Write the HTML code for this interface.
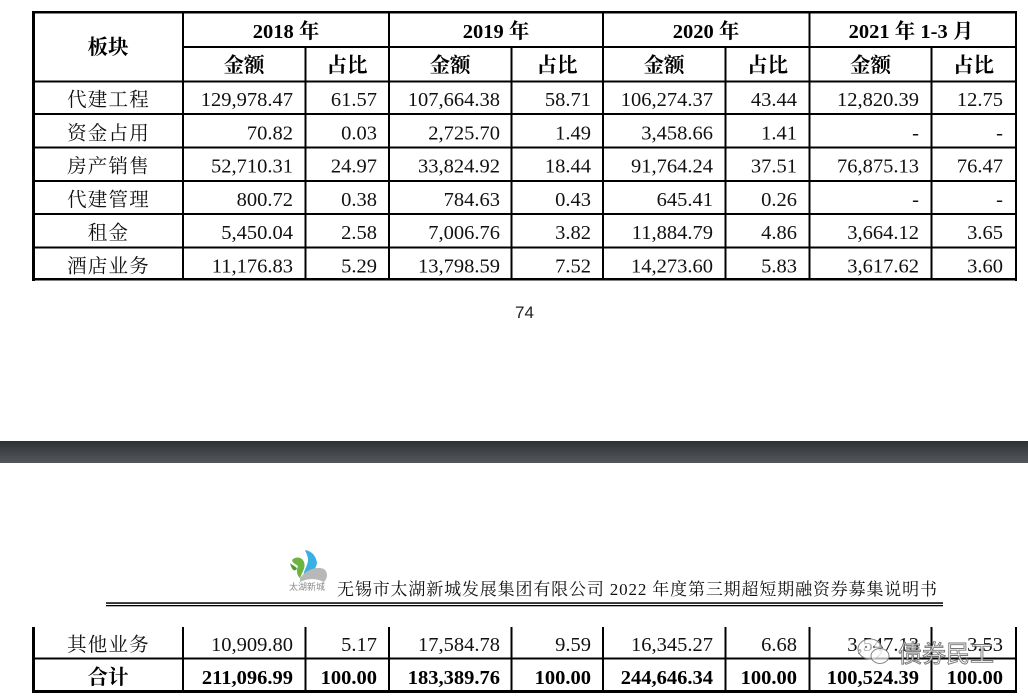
<!DOCTYPE html>
<html><head><meta charset="utf-8"><style>
html,body{margin:0;padding:0;background:#fff;}
body{width:1028px;height:698px;overflow:hidden;}
svg{display:block;}
.n{font-family:"Liberation Serif","Noto Serif CJK SC",serif;font-size:20.5px;fill:#111;}
.c{font-family:"Noto Serif CJK SC","Noto Serif CJK JP","Liberation Serif",serif;font-size:19.5px;letter-spacing:1.2px;fill:#111;}
.b{font-family:"Liberation Serif","Noto Serif CJK SC",serif;font-size:20.5px;font-weight:bold;fill:#000;}
</style></head><body>
<svg width="1028" height="698" viewBox="0 0 1028 698" xmlns="http://www.w3.org/2000/svg">
<defs>
<linearGradient id="band" x1="0" y1="0" x2="0" y2="1">
<stop offset="0" stop-color="#2e3134"/><stop offset="0.5" stop-color="#424548"/><stop offset="1" stop-color="#53575b"/>
</linearGradient>
</defs>
<rect width="1028" height="698" fill="#fff"/>

<!-- TOP TABLE LINES -->
<g fill="#000">
<rect x="32" y="11" width="985" height="2.5"/>
<rect x="32" y="11" width="3" height="270"/>
<rect x="1015" y="11" width="2" height="270"/>
<rect x="32" y="278" width="985" height="2.5"/>
<rect x="183" y="46" width="833" height="2"/>
<rect x="32" y="80.5" width="985" height="2"/>
<rect x="32" y="113" width="985" height="2"/>
<rect x="32" y="146.5" width="985" height="2"/>
<rect x="32" y="180" width="985" height="2"/>
<rect x="32" y="213" width="985" height="2"/>
<rect x="32" y="246.5" width="985" height="2"/>
<rect x="182" y="12" width="2" height="268"/>
<rect x="304.5" y="47" width="2" height="233"/>
<rect x="388" y="12" width="2" height="268"/>
<rect x="510.5" y="47" width="2" height="233"/>
<rect x="602" y="12" width="2" height="268"/>
<rect x="724.5" y="47" width="2" height="233"/>
<rect x="808.5" y="12" width="2" height="268"/>
<rect x="930.5" y="47" width="2" height="233"/>
</g>

<!-- header -->
<text class="b" x="108" y="54" text-anchor="middle">板块</text>
<text class="b" x="286" y="38" text-anchor="middle">2018 年</text>
<text class="b" x="496" y="38" text-anchor="middle">2019 年</text>
<text class="b" x="706" y="38" text-anchor="middle">2020 年</text>
<text class="b" x="911" y="38" text-anchor="middle">2021 年 1-3 月</text>
<text class="b" x="244" y="72" text-anchor="middle">金额</text>
<text class="b" x="347" y="72" text-anchor="middle">占比</text>
<text class="b" x="450" y="72" text-anchor="middle">金额</text>
<text class="b" x="557" y="72" text-anchor="middle">占比</text>
<text class="b" x="664" y="72" text-anchor="middle">金额</text>
<text class="b" x="767.5" y="72" text-anchor="middle">占比</text>
<text class="b" x="870.5" y="72" text-anchor="middle">金额</text>
<text class="b" x="973.5" y="72" text-anchor="middle">占比</text>

<!-- rows -->
<text class="c" x="108.5" y="106" text-anchor="middle">代建工程</text>
<text class="c" x="108.5" y="139.5" text-anchor="middle">资金占用</text>
<text class="c" x="108.5" y="172.5" text-anchor="middle">房产销售</text>
<text class="c" x="108.5" y="206" text-anchor="middle">代建管理</text>
<text class="c" x="108.5" y="239" text-anchor="middle">租金</text>
<text class="c" x="108.5" y="272.5" text-anchor="middle">酒店业务</text>
<g class="n">
<text x="293" y="106" text-anchor="end">129,978.47</text>
<text x="377" y="106" text-anchor="end">61.57</text>
<text x="500" y="106" text-anchor="end">107,664.38</text>
<text x="591" y="106" text-anchor="end">58.71</text>
<text x="713" y="106" text-anchor="end">106,274.37</text>
<text x="797" y="106" text-anchor="end">43.44</text>
<text x="919" y="106" text-anchor="end">12,820.39</text>
<text x="1003" y="106" text-anchor="end">12.75</text>

<text x="293" y="139.5" text-anchor="end">70.82</text>
<text x="377" y="139.5" text-anchor="end">0.03</text>
<text x="500" y="139.5" text-anchor="end">2,725.70</text>
<text x="591" y="139.5" text-anchor="end">1.49</text>
<text x="713" y="139.5" text-anchor="end">3,458.66</text>
<text x="797" y="139.5" text-anchor="end">1.41</text>
<text x="919" y="139.5" text-anchor="end">-</text>
<text x="1003" y="139.5" text-anchor="end">-</text>

<text x="293" y="172.5" text-anchor="end">52,710.31</text>
<text x="377" y="172.5" text-anchor="end">24.97</text>
<text x="500" y="172.5" text-anchor="end">33,824.92</text>
<text x="591" y="172.5" text-anchor="end">18.44</text>
<text x="713" y="172.5" text-anchor="end">91,764.24</text>
<text x="797" y="172.5" text-anchor="end">37.51</text>
<text x="919" y="172.5" text-anchor="end">76,875.13</text>
<text x="1003" y="172.5" text-anchor="end">76.47</text>

<text x="293" y="206" text-anchor="end">800.72</text>
<text x="377" y="206" text-anchor="end">0.38</text>
<text x="500" y="206" text-anchor="end">784.63</text>
<text x="591" y="206" text-anchor="end">0.43</text>
<text x="713" y="206" text-anchor="end">645.41</text>
<text x="797" y="206" text-anchor="end">0.26</text>
<text x="919" y="206" text-anchor="end">-</text>
<text x="1003" y="206" text-anchor="end">-</text>

<text x="293" y="239" text-anchor="end">5,450.04</text>
<text x="377" y="239" text-anchor="end">2.58</text>
<text x="500" y="239" text-anchor="end">7,006.76</text>
<text x="591" y="239" text-anchor="end">3.82</text>
<text x="713" y="239" text-anchor="end">11,884.79</text>
<text x="797" y="239" text-anchor="end">4.86</text>
<text x="919" y="239" text-anchor="end">3,664.12</text>
<text x="1003" y="239" text-anchor="end">3.65</text>

<text x="293" y="272.5" text-anchor="end">11,176.83</text>
<text x="377" y="272.5" text-anchor="end">5.29</text>
<text x="500" y="272.5" text-anchor="end">13,798.59</text>
<text x="591" y="272.5" text-anchor="end">7.52</text>
<text x="713" y="272.5" text-anchor="end">14,273.60</text>
<text x="797" y="272.5" text-anchor="end">5.83</text>
<text x="919" y="272.5" text-anchor="end">3,617.62</text>
<text x="1003" y="272.5" text-anchor="end">3.60</text>
</g>

<!-- page number -->
<text x="524.5" y="318" text-anchor="middle" font-family="'Liberation Sans',sans-serif" font-size="17" fill="#222">74</text>

<!-- dark band -->
<rect x="0" y="441" width="1028" height="22" fill="url(#band)"/>

<!-- logo -->
<g>
<path d="M292,560 C296,556 302,557 304,562 C306,568 302,572 300,578 C297,576 296,570 298,566 C296,564 293,564 292,560 Z" fill="#6cb33f"/>
<path d="M290,563 C293,566 296,566 297,569 C294,572 292,570 290,563 Z" fill="#4a9a2e"/>
<path d="M305,550 C312,551 316,556 317,563 C316,570 310,574 304,578 C302,572 308,566 308,560 C308,556 306,553 305,550 Z" fill="#3ab0e2"/>
<path d="M300,578 C306,570 316,566 324,569 C328,572 328,578 324,582 C316,578 308,578 300,582 Z" fill="#b8b8b8"/>
<text x="307" y="590" text-anchor="middle" font-family="'Noto Sans CJK SC',sans-serif" font-size="9" fill="#8a8a8a">太湖新城</text>
</g>

<!-- running header -->
<text x="337" y="595" textLength="600" lengthAdjust="spacing" font-family="'Liberation Serif','Noto Serif CJK SC',serif" font-size="17" fill="#111">无锡市太湖新城发展集团有限公司 2022 年度第三期超短期融资券募集说明书</text>
<rect x="106" y="602.3" width="837" height="1.5" fill="#000"/>
<rect x="106" y="605" width="837" height="1.3" fill="#000"/>

<!-- BOTTOM TABLE LINES -->
<g fill="#000">
<rect x="32" y="627" width="3" height="66"/>
<rect x="1015" y="627" width="2" height="66"/>
<rect x="32" y="657.5" width="985" height="2"/>
<rect x="32" y="690" width="985" height="3"/>
<rect x="182" y="627" width="2" height="64"/>
<rect x="304.5" y="627" width="2" height="64"/>
<rect x="388" y="627" width="2" height="64"/>
<rect x="510.5" y="627" width="2" height="64"/>
<rect x="602" y="627" width="2" height="64"/>
<rect x="724.5" y="627" width="2" height="64"/>
<rect x="808.5" y="627" width="2" height="64"/>
<rect x="930.5" y="627" width="2" height="64"/>
</g>

<text class="c" x="108.5" y="651" text-anchor="middle">其他业务</text>
<g class="n">
<text x="293" y="651" text-anchor="end">10,909.80</text>
<text x="377" y="651" text-anchor="end">5.17</text>
<text x="500" y="651" text-anchor="end">17,584.78</text>
<text x="591" y="651" text-anchor="end">9.59</text>
<text x="713" y="651" text-anchor="end">16,345.27</text>
<text x="797" y="651" text-anchor="end">6.68</text>
<text x="919" y="651" text-anchor="end">3,547.13</text>
<text x="1003" y="651" text-anchor="end">3.53</text>
</g>
<text class="b" x="108" y="684" text-anchor="middle">合计</text>
<g class="b">
<text x="293" y="684" text-anchor="end">211,096.99</text>
<text x="377" y="684" text-anchor="end">100.00</text>
<text x="500" y="684" text-anchor="end">183,389.76</text>
<text x="591" y="684" text-anchor="end">100.00</text>
<text x="713" y="684" text-anchor="end">244,646.34</text>
<text x="797" y="684" text-anchor="end">100.00</text>
<text x="919" y="684" text-anchor="end">100,524.39</text>
<text x="1003" y="684" text-anchor="end">100.00</text>
</g>

<!-- watermark -->
<g opacity="0.9">
<ellipse cx="870" cy="649" rx="12" ry="10" fill="#fff" fill-opacity="0.75" stroke="#777" stroke-width="1"/>
<ellipse cx="880" cy="656" rx="9" ry="7.5" fill="#fff" fill-opacity="0.75" stroke="#777" stroke-width="1"/>
<circle cx="866" cy="647" r="1.2" fill="#777"/>
<circle cx="874" cy="647" r="1.2" fill="#777"/>
<text x="898" y="662" font-family="'Noto Sans CJK SC',sans-serif" font-size="24" fill="#fff" fill-opacity="0.85" stroke="#666" stroke-width="0.9">债券民工</text>
</g>
</svg>
</body></html>
